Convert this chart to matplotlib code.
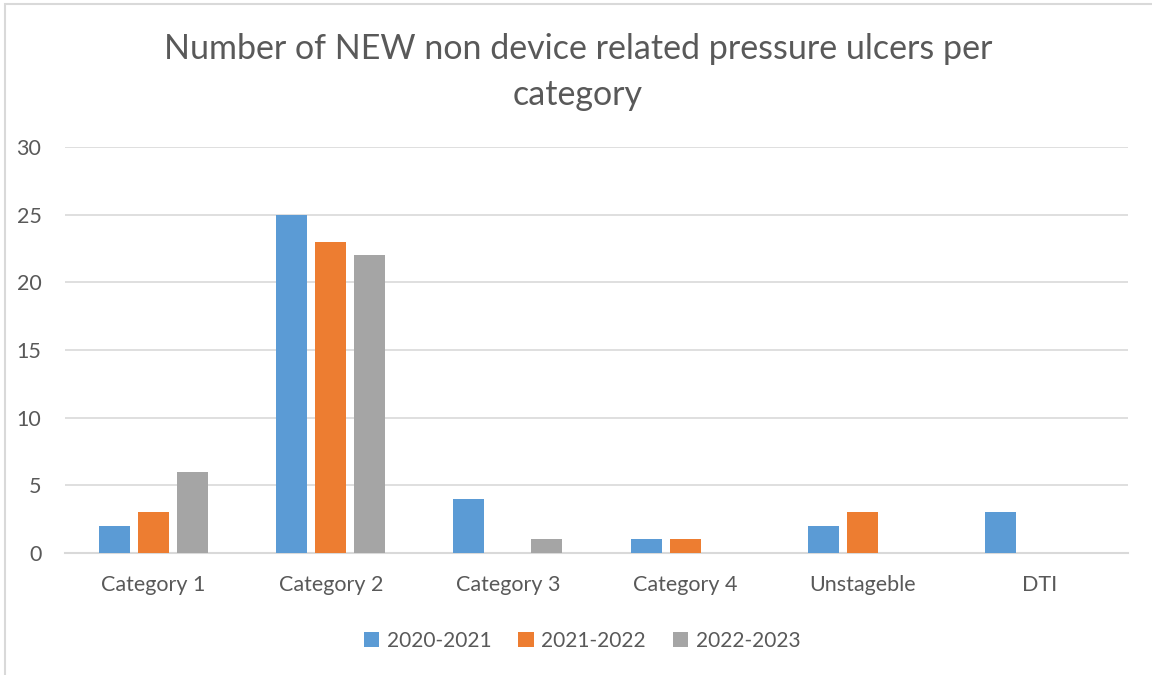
import matplotlib
matplotlib.use("Agg")
import matplotlib.pyplot as plt
import numpy as np
from matplotlib.patches import Rectangle

categories = ["Category 1", "Category 2", "Category 3", "Category 4", "Unstageble", "DTI"]
series_names = ["2020-2021", "2021-2022", "2022-2023"]
s2020 = [2, 25, 4, 1, 2, 3]
s2021 = [3, 23, 0, 1, 3, 0]
s2022 = [6, 22, 1, 0, 0, 0]
colors = ["#5B9BD5", "#ED7D31", "#A5A5A5"]
yticks = [0, 5, 10, 15, 20, 25, 30]

plt.rcParams['font.family'] = ['Lato', 'DejaVu Sans']
txt = "#595959"

fig = plt.figure(figsize=(11.52, 6.75), dpi=100)
fig.patches.append(Rectangle((5/1152, -0.1), 1.2, 1 - 4/675 + 0.1, transform=fig.transFigure,
                             fill=False, edgecolor="#D9D9D9", linewidth=1.5, zorder=0))
ax = fig.add_axes([65/1152, 1 - 553/675, (1128 - 65)/1152, (553 - 147)/675])

x = np.arange(len(categories))
w = 0.175
step = 0.22
for i, (vals, name) in enumerate(zip([s2020, s2021, s2022], series_names)):
    ax.bar(x + (i - 1) * step, vals, width=w, color=colors[i], label=name, zorder=3)

ax.set_xlim(-0.5, len(categories) - 0.5)
ax.set_ylim(0, 30)
ax.set_yticks(yticks)
ax.set_xticks(x)
ax.set_xticklabels(categories)
ax.tick_params(axis='both', length=0, labelsize=15.5, colors=txt)
ax.tick_params(axis='x', pad=16)
ax.tick_params(axis='y', pad=17)
for lbl in ax.get_yticklabels():
    lbl.set_verticalalignment('center_baseline')
ax.grid(axis='y', color="#D9D9D9", linewidth=1.2, zorder=0)
for s in ["top", "right", "left"]:
    ax.spines[s].set_visible(False)
ax.spines["bottom"].set_color("#D9D9D9")
ax.spines["bottom"].set_linewidth(1.5)

fig.text(578/1152, 1 - 72/675, "Number of NEW non device related pressure ulcers per\ncategory",
         ha='center', va='center', fontsize=24.5, color=txt, linespacing=1.55)

leg = fig.legend(loc='center', bbox_to_anchor=(582/1152, 1 - 641/675), ncol=3, frameon=False,
                 fontsize=15, handlelength=0.75, handleheight=0.75, columnspacing=1.3, handletextpad=0.35)
for t in leg.get_texts():
    t.set_color(txt)

fig.savefig("out.png", dpi=100, facecolor="white")
